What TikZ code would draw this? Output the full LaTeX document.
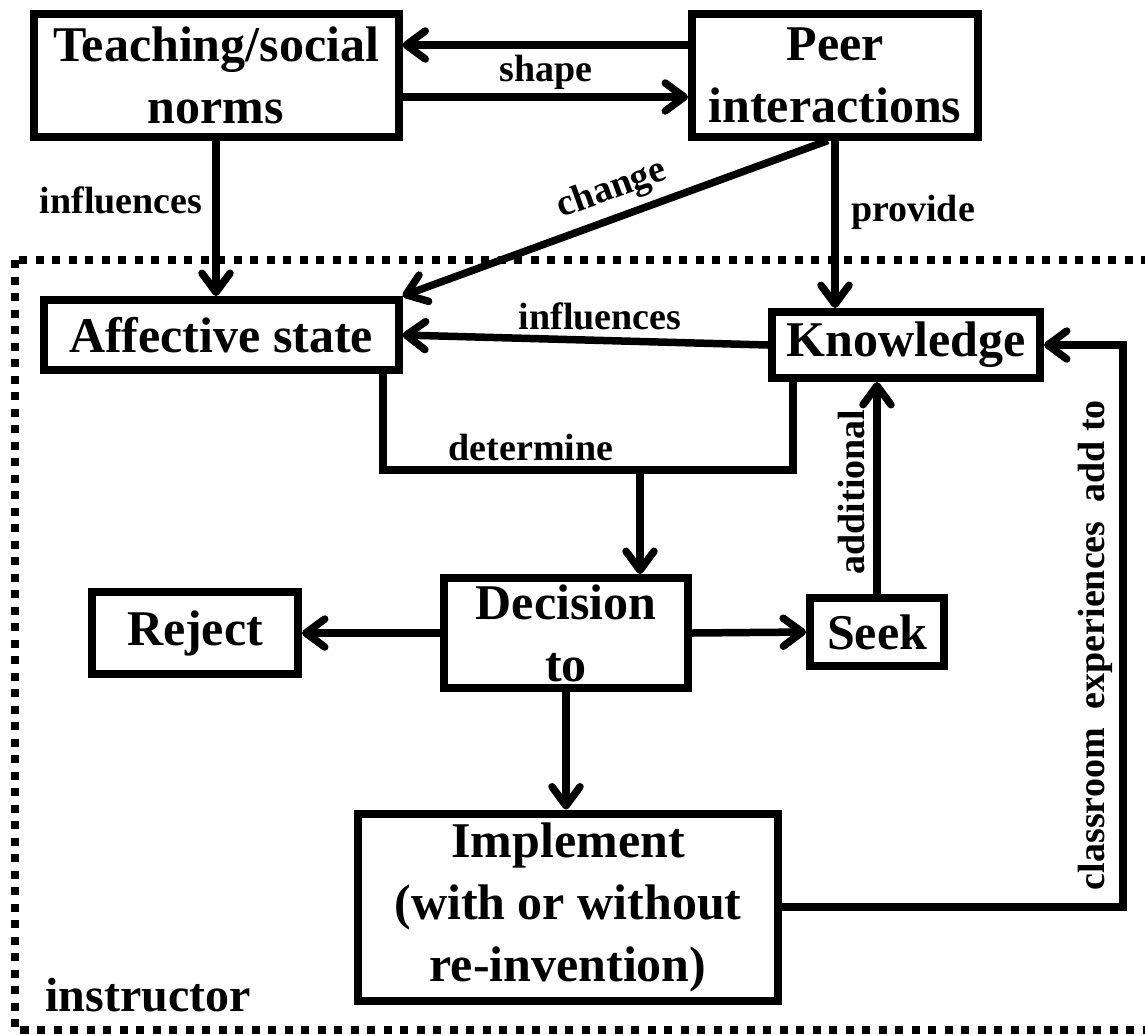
\documentclass[tikz,border=0pt]{standalone}
\usepackage{fontspec}
\setmainfont{Liberation Serif}
\usetikzlibrary{arrows.meta}
\begin{document}
\begin{tikzpicture}[x=1pt,y=-1pt,
  box/.style={draw, line width=8pt, align=center, inner sep=0pt,
    font=\fontsize{50}{62}\selectfont\bfseries},
  conn/.style={line width=7.5pt},
  arr/.style={conn, -{Straight Barb[length=19pt,width=28pt,round]}},
  lbl/.style={font=\fontsize{38}{44}\selectfont\bfseries, inner sep=0pt},
  border/.style={line width=8pt, dash pattern=on 8pt off 8.5pt}]
\useasboundingbox (0,0) rectangle (1145,1034);
% instructor region (its right side lies beyond the picture)
\begin{scope}
\clip (0,0) rectangle (1145,1034);
\draw[border] (15,260) rectangle (1165,1030);
\end{scope}
\node[font=\fontsize{48}{56}\selectfont\bfseries, inner sep=0pt] (instr) at (148,995) {instructor};
% boxes
\node[box, minimum width=365pt, minimum height=123pt] (teach) at (216,75) {Teaching/social\\norms};
\node[box, minimum width=286pt, minimum height=123pt] (peer) at (835,75) {Peer\\interactions};
\node[box, minimum width=355pt, minimum height=70pt] (affect) at (221,335) {Affective state};
\node[box, minimum width=268pt, minimum height=66pt] (know) at (906,345) {Knowledge};
\node[box, minimum width=244pt, minimum height=110pt] (decision) at (566,633) {Decision\\to};
\node[box, minimum width=206pt, minimum height=82pt] (reject) at (195,633) {Reject};
\node[box, minimum width=134pt, minimum height=68pt] (seek) at (877,632) {Seek};
\node[box, minimum width=420pt, minimum height=187pt] (impl) at (568,907) {Implement\\(with or without\\re-invention)};
% connectors
\draw[arr] (peer.west |- 0,45) -- (teach.east |- 0,45);
\draw[arr] (teach.east |- 0,97) -- (peer.west |- 0,97);
\node[lbl] (lshape) at (546,72) {shape};
\draw[arr] (teach.south) -- (teach.south |- affect.north);
\node[lbl] (linf1) at (121,200) {influences};
\draw[arr] ([xshift=-7pt]peer.south) -- (affect.north east);
\node[lbl, rotate=20] (lchange) at (612,190) {change};
\draw[arr] (peer.south) -- (peer.south |- know.north);
\node[lbl] (lprov) at (913,212) {provide};
\draw[arr] (know.west) -- (affect.east);
\node[lbl] (linf2) at (600,316) {influences};
\coordinate (dj) at (640,470);
\draw[conn] ([xshift=162pt]affect.south) |- (dj) -| ([xshift=-113pt]know.south);
\draw[arr] (dj) -- (dj |- decision.north);
\node[lbl] (ldet) at (531,447) {determine};
\draw[arr] (decision.west) -- (reject.east);
\draw[arr] (decision.east) -- (seek.west);
\draw[arr] (seek.north) -- (seek.north |- know.south);
\node[lbl, rotate=90] (ladd) at (851,492) {additional};
\draw[arr] (decision.south) -- (decision.south |- impl.north);
\draw[arr] (impl.east) -| ([xshift=79pt]know.east) -- (know.east);
\node[lbl, rotate=90] (lclass) at (1095,645) {classroom\ \ experiences\ \ add\ to};
\end{tikzpicture}
\end{document}
